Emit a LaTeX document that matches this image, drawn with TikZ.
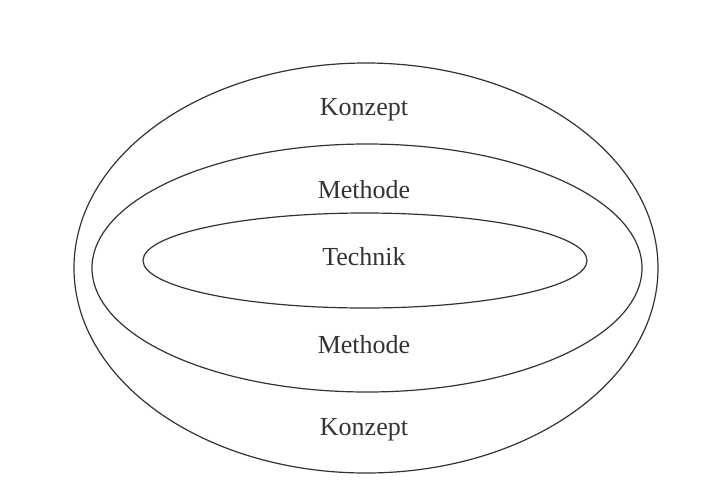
\documentclass[tikz,border=0pt]{standalone}
\usepackage{fontspec}
\setmainfont{Liberation Serif}
\begin{document}
\begin{tikzpicture}[x=1pt,y=-1pt,
  ring/.style={draw=black!80, line width=1.2pt},
  lbl/.style={anchor=base, text=black!80, inner sep=0pt, font=\fontsize{26}{30}\selectfont}]
  \useasboundingbox[fill=white] (0,0) rectangle (721,483);
  % nested ellipses
  \draw[ring] (366,268) ellipse [x radius=292, y radius=205];
  \draw[ring] (367,268) ellipse [x radius=275, y radius=124];
  \draw[ring] (365,260.5) ellipse [x radius=222, y radius=47.5];
  % labels
  \node[lbl] (k1) at (364,115) {Konzept};
  \node[lbl] (m1) at (364,198) {Methode};
  \node[lbl] (t)  at (364,265) {Technik};
  \node[lbl] (m2) at (364,353) {Methode};
  \node[lbl] (k2) at (364,435) {Konzept};
\end{tikzpicture}
\end{document}
